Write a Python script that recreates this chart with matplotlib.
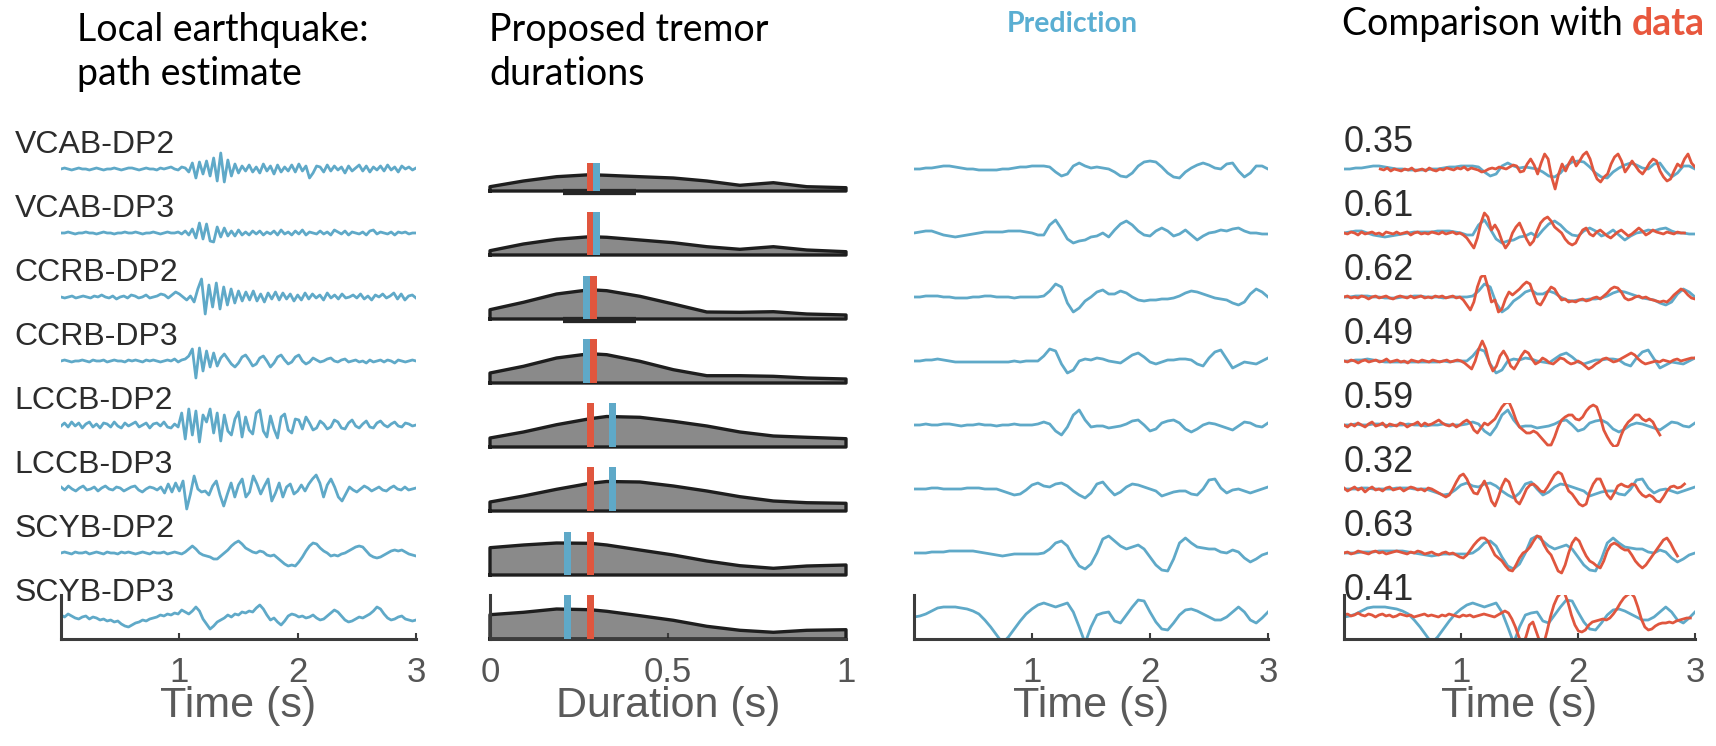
import matplotlib
matplotlib.use("Agg")
import matplotlib.pyplot as plt
import numpy as np

# ---- data (amplitudes, in pixel-like units) ----
stations = ["VCAB-DP2", "VCAB-DP3", "CCRB-DP2", "CCRB-DP3",
            "LCCB-DP2", "LCCB-DP3", "SCYB-DP2", "SCYB-DP3"]
corr = ["0.35", "0.61", "0.62", "0.49", "0.59", "0.32", "0.63", "0.41"]

# local earthquake traces, 0..3 s
eq_traces = [
    [0, 1, 0, -1, 0, 1, 0, 0, -1, 0, 1, 0, -1, 0, 0, 1, 0, -1, 0, 1, 1, 0, -1, 0, 1, 0, 0, -1, 1, 0, 1, 2, 0, -1, 2, 1,
     -3, 6, -9, 7, -5, 8, -7, 11, -12, 16, -13, 9, -7, 5,
     -4, 3, -2, 4, -3, 2, -4, 5, -2, 3, -5, 4, -3, 2, -2, 4, -3,
     5, -2, 3, -9, -4, 3,
     2, -3, 4, -2, 3, -1, 2, -4, 3, -2, 1, 4, -2, 3, -3, 2, -1, 3, -2, 4, -1, 2, -3, 3, 0, 2, -1, 1],
    [0, 0, 1, 0, -1, 0, 0, 1, 0, 0, -1, 0, 1, 0, 0, -1, 0, 0, 1, 0, 0, 1, 0, -1, 0, 0, 1, 0, -1, 0, 1, 0, 0, 1, -1, 2,
     -2, 4, -5, 10, -6, 9, -8, -9, 6, -4, 5,
     -3, 2, -3, 3, -2, 1, -2, 2, -1, 2, -2, 1, -1, 2, -2, 3, -1, 1, -2, 2, -1, 3, -2, 1, 0, -1, 2, -1, 1, -2,
     3, 1, -1, 2, -2, 1, 0, -1, 1, -2, 2, 3, -1, 1, 0, -1, 1, -2, 1, 0, 1, -1, 0, 0],
    [0, -1, 0, 1, -1, 0, 1, 0, -1, 1, 0, 2, 0, -1, 1, -2, 0, 1, -1, 2, 1, -1, 0, 2, -1, 0, 1, 3, 2, -1, 2, 5, 3, 0, -3, 1,
     -5, 8, 18, -17, 12, -10, 14, -12, 10, -8, 8, -6, 6, -4,
     5, -3, 6, -4, 3, -5, 4, -2, 5, -3, 4, -2, 3, -4, 2,
     -3, 4, -2, 3, -1, 2, -3, 4, -1, 2, -2, 3, -1, 0, 2, -1, 3, -2, 1, -3, 2, 0, 3, -1, 1, 4, -2, 3, -3, 1, 2, -1],
    [0, 1, 0, -1, 0, 0, 1, 0, -1, 1, 0, 0, 1, -1, 0, 1, 0, 0, -1, 1, 0, 1, 0, -1, 1, 0, 1, 0, -1, 0, 1, 0, 2, -1, 1, 2,
     5, 12, -17, 13, -10, 10, -6, 8, -5,
     3, 7, 2, -3, -6, -2, 4, 6, 1, -5, -3, 3, 5, 0, -6, -2, 4, 6, 1, -3, -1, 4, 6, 0, -3, -1, 3, 1, -1, 0,
     2, 3, 0, -1, 1, 2, -1, 0, 1, -1, 0, -2, 1, -1, 0, 1, -1, 1, 0, -2, 1, 0, -1, 0, 1, 0],
    [-1, 2, -2, 3, -1, 2, -3, 1, 3, -2, 1, -3, 2, 1, -2, 3, -1, -3, 2, -1, 1, 3, -2, 0, 2, -3, 1, 2, -1, 3, -2, -3, 1, -2,
     12, -14, 16, -10, 14, -17, 10, 3, 16, -8, 12, -16, 10, -6, -10, 6, 13, -12, 8, -5, -9, 12, 15, -6, -12, 9, -4,
     -13, 8, 11, -5, -8, 6, 5,
     -4, 8, 2, -5, -3, 4, 1, -4, -2, 5, 3, -3, -4, 2, 5, -1, -3, 1, 4, -2, -3, 2, 4, 0, -2, 1, 3, -1, -2, 2, 1, -1, 0],
    [2, -1, 3, 0, -2, 1, 3, -1, 0, 2, -2, 1, 3, 0, -1, 2, 1, -2, 0, 2, 3, -1, -3, 0, 2, 1, -1, 2,
     -4, 5, -3, 6, -2, 8,
     -20, -5, 13, 0, -3, -2, -6, 3, 8, -6, -17, -5, 6, -8, 4, 10, -8, -3, 13, 5, -5, 3, 10, -12, -4, 6, -8, 2, 5,
     -5, -2, 4, -2, 5, 10, 14, 6, -8, 4, 10, 2, -8, -12, -5, 2,
     -1, -3, 0, 3, 1, -2, 0, 2, -1, -2, 1, 3, 0, -1, 2, -1, 0, 1],
    [0, 1, 0, -1, 1, 0, 0, 1, -1, 0, 1, 0, -1, 1, 0, 0, -1, 1, 0, 1, 0, -1, 0, 1, 0, -1, 1, 0, 0, 1, -1, 0, 1, 0, -1, 1,
     4, 7, 4, 0, -2, -3, -4, -6, -6, -3, 0, 3, 7, 10, 12, 9, 5, 3, 1, 0, 2, 1, -2, -3, -2, -5, -8, -11, -13, -12,
     -13, -9, -4, 2, 7, 10, 9, 5, 2, 0, -3, -2, -3,
     -1, 0, 2, 4, 6, 7, 6, 2, -2, -4, -5, -4, -2, 0, 2, 3, 2, 3, 1, -1, -2, -3],
    [2, 0, 3, 1, -1, -2, 0, 1, -2, 0, -1, -3, -2, -4, -3, -5, -4, -7, -9, -10, -8, -6, -5, -3, -4, -2, -1, 0, 2, 1,
     3, 2, 4, 3, 7, 5, 3, 6, 10, 6, -2, -7, -12, -9, -5, -3, -1, 2, 0, 3, 2, 5, 4, 6, 5, 9, 12, 8, 2, -3, -1,
     -5, -8, -4, 1, 3, 2, 0, 1, -1, 0, 2, -1, -3, -2, 1, 4, 7, 5, 1, -3, -5, -4, -2, 0, -1, 1, 3, 6, 10, 8,
     3, -1, -3, -2, 0, 1, -2, -3, -4, -3],
]

# predicted waveforms, 0..3 s (also drawn in blue in the comparison panel)
pred_traces = [
    [0, 0, 1, 1, 2, 3, 3, 2, 1, 0, 0, -1, -1, -1, -1, 0, 0, 1, 2, 2, 3, 3, 3, 2, -3, -7, -5, 3, 6, 3, 1, 2, 1, 0,
     -3, -7, -8, -4, 3, 7, 8, 7, 2, -4, -8, -9, -3, 1, 4, 6, 4, 1, 0, 5, 6, -2, -8, -4, 3, 3, 0],
    [0, 1, 2, 2, 0, -2, -3, -4, -3, -2, -1, 0, 1, 1, 1, 1, 2, 2, 2, 1, 0, -2, -2, 8, 13, 4, -6, -10, -8, -7, -4,
     -3, 0, -4, 3, 9, 12, 8, 2, -2, -3, 2, 5, 2, -3, -1, 3, -2, -7, -3, 0, 1, 3, 2, 4, 5, 2, 0, 0, -1, -1],
    [0, 0, 1, 1, 1, 0, 0, -1, -1, -1, 0, 0, 1, 1, 0, 0, 0, -1, 0, 0, 0, 0, 1, 6, 13, 10, -6, -15, -11, -4, 0,
     5, 7, 3, 3, 6, 4, 0, -3, -4, -3, -3, -2, -2, -1, 1, 4, 6, 5, 3, 1, -1, -2, -3, -6, -8, -5, 3, 8, 5, 0],
    [0, 0, 1, 1, 2, 1, 0, -1, -1, -1, -1, -1, -1, -1, -1, -1, -1, 0, -1, 0, 0, 0, 5, 12, 10, -3, -12, -9, 0, 2,
     1, 3, 2, 0, -1, -2, 2, 6, 8, 4, -1, -3, -1, 1, 1, 2, 2, 1, -3, -5, 3, 9, 11, 2, -7, -4, -1, -2, -3, 0, 3],
    [0, 0, 1, 0, 0, 1, 1, 0, -1, 0, 0, 1, 0, 0, -1, 0, 0, 1, 0, 0, 0, 1, 3, 1, -6, -10, -2, 10, 15, 5, -2, -1,
     -1, -3, -2, -1, 1, 4, 5, 0, -6, -4, 2, 4, 5, 2, -4, -7, -4, 0, 2, 1, -1, -3, -5, -1, 3, 2, -1, -2, 2],
    [0, 0, 0, 1, 1, 0, 0, 0, 0, 1, 1, 1, 0, 0, 0, -2, -4, -6, -5, -1, 4, 6, 3, 2, 5, 6, 3, -2, -6, -9, -4, 5, 7,
     0, -6, -3, 2, 5, 4, 2, 0, -2, -7, -5, -3, -2, -2, -5, -6, 0, 9, 10, 1, -4, -1, 0, -2, -4, -2, 0, 2],
    [0, 0, 0, 1, 1, 1, 2, 2, 2, 2, 2, 1, 0, -1, -2, -3, -2, -1, -1, -1, -1, -1, 0, 4, 10, 12, 7, -4, -13, -16,
     -11, 0, 14, 17, 12, 7, 4, 6, 8, 4, -4, -12, -17, -18, -6, 10, 15, 10, 6, 5, 4, 4, 1, 0, 3, 1, -5, -9, -6, -2, 0],
    [0, 1, 3, 6, 9, 10, 10, 10, 9, 8, 6, 3, -3, -10, -18, -26, -20, -12, -4, 3, 8, 12, 14, 12, 10, 12, 14, 5,
     -10, -26, -10, 2, 4, 5, -4, -6, 2, 10, 17, 16, 5, -5, -12, -13, -6, 2, 7, 8, 6, 3, 0, -3, -3, 0, 5, 10, 5,
     -3, -6, -1, 5],
]

# observed data (red) in the comparison panel
data_t0 = [0.31, 0, 0, 0, 0, 0, 0, 0]
data_t1 = [3.0, 2.91, 3.0, 3.0, 2.70, 2.91, 2.85, 2.96]
data_traces = [
    [0, -1, 1, -2, 0, -1, -2, 0, -1, 1, -2, -1, 0, -2, 1, -1, -2, 0, -1, 1, 0, -1, 1, 0, 2, -1, 1, 0,
     -1, -3, -2, 0, 1, 0, 2, 1, 0, 2, 4, 3, -3, -2, 5, 10, 4, -5, 6, 15, 10, -8, -20, -5, 5, -2, 6, 12, 3, 8,
     14, 17, 10, -2, -10, -13, -8, -5, 5, 12, 15, 8, -3, 2, 8, 3, -2, -5, 0, 6, 10, 8, -2, -8, -12, -10, -2,
     5, 2, 10, 15, 6, 2],
    [0, -1, 1, 0, -2, 1, -1, 0, 1, -1, 0, -2, 1, 0, -1, 1, -1, 0, 1, -2, 0, 1, -1, 0, -1, 1, 0, -1, 1, -1, 0, 1,
     -1, 0, -2, -5, -10, -15, -5, 10, 20, 16, 3, 8, 2, -8, -15, -10, 0, 6, 10, 2, -6, -12, -8, 2, 10, 14, 16, 12,
     6, 3, 0, -6, -10, -12, -10, -3, 3, 5, -1, -3, 1, 3, 0, -3, -5, -2, 1, 3, 0, -3, -1, 2, 5, 2, -2, 0, 3, 1,
     0, -1, 1, 0, -1, 1, 0, 0],
    [0, 1, -1, 0, -1, 1, 0, -2, 0, 1, -1, 0, 1, -1, -2, 0, 1, 0, -1, 1, -1, 0, 1, -1, 0, -1, 1, 0, 1, -1, 0, 1,
     -1, 0, -3, -8, -13, -5, 10, 20, 22, 10, -5, -3, -15, -12, -2, 5, 2, 5, 8, 12, 15, 13, 3, -6, -8, -2, 5, 10,
     8, 2, -3, -2, -5, -4, -5, -3, -2, -4, -3, -1, 0, -2, 1, 4, 8, 10, 9, 5, -1, -3, -2, 0, 1, -1, 0, -2, -3,
     -4, -5, -4, -5, -2, 2, 5, 8, 6, 2, -1, -2],
    [0, -1, 1, 0, -2, 0, 1, -1, 0, 1, -1, 0, 2, -1, 0, 1, -1, 0, -2, 1, 0, -1, 1, 0, -1, 1, 0, -1, 0, 1, -1, 0,
     1, 0, -2, -5, -8, 0, 12, 20, 12, -2, -10, -5, 5, 10, 4, -5, -8, -2, 5, 10, 8, 2, -3, -1, 3, 1, -2, -3, 0, 3,
     2, -1, -3, -2, 0, -2, -5, -8, -6, -3, -1, 2, 3, 1, -1, 0, 2, 4, 6, 8, 6, 2, -1, -3, -2, -1, 0, -1, 1, 0, -1,
     1, 2, 0, 1, 2, 3, 3],
    [0, -2, 1, -1, 2, 0, -2, 1, 3, -1, 0, 2, -2, 1, 0, -1, 2, 1, -2, 0, 1, 3, -1, 2, 0, 1, 3, 5, 2, 0, -1, 1, -2,
     0, 3, 5, 2, -5, -8, -3, 2, 0, 3, 6, 12, 18, 22, 23, 15, 5, -2, -5, -8, -8, -6, -8, -12, -16, -20, -20, -12,
     -2, 5, 8, 10, 10, 6, 5, 8, 14, 18, 20, 18, 8, -5, -12, -18, -22, -20, -10, -2, 3, 6, 10, 10, 6, 4, 6, 3,
     -4, -10],
    [1, -2, 0, 2, -1, 1, -3, 0, 2, -1, 0, -2, 1, 2, -1, 0, 1, -2, 0, 2, 1, -1, 0, -2, 1, 0,
     -2, -4, -6, -8, -6, 0, 7, 13, 15, 10, 2, -4, -5, 2, 8, 0, -12, -17, -8, 3, 10, 7, -3, -12, -15, -8, 0, 4,
     5, 2, -2, -3, 2, 8, 14, 17, 15, 6, -2, -5, -10, -15, -17, -15, -3, 5, 10, 10, 2, -6, -10, -4, 3, 5, 3, 2,
     5, 4, -2, -6, -8, -6, -8, -12, -13, -8, -2, 2, 3, 1, 2, 5],
    [0, 1, -1, 0, 2, 1, 0, -1, 1, 2, 0, 1, -1, 0, 1, 2, 1, 0, -1, 1, 0, 2, 1, -1, 0, 1, -1, -2, 0, 1, -1, 0,
     -2, -4, -5, -2, 3, 8, 12, 15, 15, 12, 5, -2, -5, -8, -13, -17, -18, -12, -5, 0, 2, 6, 12, 17, 16, 8, 2, -2,
     -10, -18, -20, -12, 0, 10, 15, 12, 4, -3, -8, -10, -13, -15, -8, 2, 8, 10, 8, 5, 3, 3, -2, -8, -12, -15,
     -12, -7, -2, 3, 8, 13, 15, 10, 3, -3],
    [2, 3, 1, 2, 4, 2, 1, 3, 2, 0, 2, 3, 1, 2, 0, 1, 3, 2, 1, 2, 0, 1, 2, 3, 1, 2, 1, 0, 2, 1, 3, 2, 1, 0, 2, 1,
     2, 0, 1, 2, 3, 2, 1, 0, 2, 4, 6, 4, -2, -10, -20, -28, -20, -8, -5, -15, -25, -28, -15, 0, 12, 20, 24, 24,
     15, 2, -8, -14, -15, -13, -8, -5, -4, -3, -2, -3, -1, 3, 8, 14, 19, 22, 24, 20, 10, -2, -10, -13, -12, -9,
     -7, -6, -6, -5, -6, -4, -3, -2, -1, -1],
]

# proposed tremor durations (density outline heights) and picks
dur_x = [0, 0.094, 0.187, 0.281, 0.328, 0.421, 0.515, 0.609, 0.702, 0.796, 0.890, 1.0]
dur_h = [
    [4.3, 10, 14.3, 16.3, 15.7, 14.3, 13, 10, 5.7, 8.3, 4.3, 3.3],
    [4.3, 11, 15.7, 18.3, 17.7, 15, 12.3, 8.3, 5.7, 8.3, 5, 3.3],
    [9.3, 16.7, 25, 29.3, 28.3, 22.7, 15, 7, 6.7, 7.3, 5, 4],
    [10, 16.7, 25, 29.3, 28.3, 21.7, 13.3, 7.3, 7.3, 6.7, 5, 4],
    [9, 15, 22.3, 28.3, 30.5, 29.7, 25.7, 21, 15, 11, 9.7, 8.3],
    [9, 15, 21.7, 27.7, 29.5, 29, 25, 20, 14.3, 10, 8.3, 7.7],
    [27.3, 30, 32, 31.7, 30, 25, 20, 14, 9.3, 6.7, 9, 10],
    [24.3, 26.7, 30, 29.3, 27.7, 23.3, 18.7, 12.7, 8.7, 6.7, 8.7, 9.3],
]
pick_data = [0.281, 0.281, 0.29, 0.29, 0.283, 0.283, 0.283, 0.283]
pick_pred = [0.30, 0.30, 0.272, 0.272, 0.345, 0.345, 0.217, 0.217]
pick_top = [28, 43, 43, 44, 44, 44, 43, 44]
range_rows = [0, 2]
range_lo, range_hi = 0.205, 0.41

# ---- style / layout ----
BLUE = "#5fa9c8"
RED = "#e0563e"
W, H = 1716, 746
ROW0, STEP, HALF = 169, 64, 22
panels_x = [(61, 416), (490, 846), (914, 1268), (1344, 1695)]
LABEL_FONT = "Liberation Sans"

fig = plt.figure(figsize=(W / 100, H / 100), dpi=100)


def row_axes(p, k):
    x0, x1 = panels_x[p]
    b = ROW0 + STEP * k
    ax = fig.add_axes([x0 / W, (H - b - HALF) / H, (x1 - x0) / W, 2 * HALF / H])
    ax.patch.set_visible(False)
    for s in ax.spines.values():
        s.set_visible(False)
    ax.set_yticks([])
    ax.set_xticks([])
    return ax


def style_bottom(ax, ticks, labels, xlabel):
    for side in ["left", "bottom"]:
        ax.spines[side].set_visible(True)
        ax.spines[side].set_color("#3c3c3c")
        ax.spines[side].set_linewidth(2.2)
    ax.set_xticks(ticks)
    ax.set_xticklabels(labels, fontfamily=LABEL_FONT, fontsize=25, color="#555555")
    ax.tick_params(axis="x", direction="in", length=4, width=1.5, color="#3c3c3c", pad=12)
    ax.set_xlabel(xlabel, fontfamily=LABEL_FONT, fontsize=31, color="#5a5a5a", labelpad=-2)


n = len(stations)
for k in range(n):
    # panel 1: earthquake path estimate
    ax = row_axes(0, k)
    y = eq_traces[k]
    ax.plot(np.linspace(0, 3, len(y)), y, color=BLUE, lw=2.0)
    ax.set_xlim(0, 3)
    ax.set_ylim(-HALF, HALF)
    ax.text(-0.13, 1.05, stations[k], transform=ax.transAxes, ha="left", va="center",
            fontfamily=LABEL_FONT, fontsize=23, color="#2c2c2c")
    if k == n - 1:
        style_bottom(ax, [1, 2, 3], ["1", "2", "3"], "Time (s)")

    # panel 2: duration densities
    ax = row_axes(1, k)
    h = dur_h[k]
    ax.fill_between(dur_x, 0, h, color="#8a8a8a", lw=0, zorder=1)
    ax.plot([0] + dur_x + [1, 0], [0] + h + [0, 0], color="#1e1e1e", lw=2.4,
            solid_joinstyle="round", clip_on=False, zorder=2)
    if k in range_rows:
        ax.plot([range_lo, range_hi], [-1, -1], color="#262626", lw=4.5,
                solid_capstyle="butt", clip_on=False, zorder=3)
    ax.bar([pick_data[k]], [pick_top[k]], width=0.019, color=RED, zorder=4)
    ax.bar([pick_pred[k]], [pick_top[k]], width=0.019, color=BLUE, zorder=4)
    ax.set_xlim(0, 1)
    ax.set_ylim(0, 2 * HALF)
    if k == n - 1:
        style_bottom(ax, [0, 0.5, 1], ["0", "0.5", "1"], "Duration (s)")

    # panel 3: prediction
    ax = row_axes(2, k)
    y = pred_traces[k]
    ax.plot(np.linspace(0, 3, len(y)), y, color=BLUE, lw=2.0)
    ax.set_xlim(0, 3)
    ax.set_ylim(-HALF, HALF)
    if k == n - 1:
        style_bottom(ax, [1, 2, 3], ["1", "2", "3"], "Time (s)")

    # panel 4: comparison with data
    ax = row_axes(3, k)
    ax.plot(np.linspace(0, 3, len(y)), y, color=BLUE, lw=2.0)
    d = data_traces[k]
    ax.plot(np.linspace(data_t0[k], data_t1[k], len(d)), d, color=RED, lw=2.0)
    ax.set_xlim(0, 3)
    ax.set_ylim(-HALF, HALF)
    ax.text(0.0, 1.1, corr[k], transform=ax.transAxes, ha="left", va="center",
            fontfamily=LABEL_FONT, fontsize=26, color="#2c2c2c")
    if k == n - 1:
        style_bottom(ax, [1, 2, 3], ["1", "2", "3"], "Time (s)")

# ---- titles ----
TITLE_FONT = "Lato"
fig.text(77 / W, 1 - 52 / H, "Local earthquake:\npath estimate", ha="left", va="center",
         fontfamily=TITLE_FONT, fontsize=27, linespacing=1.25, color="black")
fig.text(489 / W, 1 - 52 / H, "Proposed tremor\ndurations", ha="left", va="center",
         fontfamily=TITLE_FONT, fontsize=27, linespacing=1.25, color="black")
fig.text(1007 / W, 1 - 24 / H, "Prediction", ha="left", va="center",
         fontfamily=TITLE_FONT, fontsize=20.5, fontweight="bold", color="#5aaed2")
t1 = fig.text(1342 / W, 1 - 24 / H, "Comparison with", ha="left", va="center",
              fontfamily=TITLE_FONT, fontsize=27, color="black")
renderer = fig.canvas.get_renderer()
bb = t1.get_window_extent(renderer)
fig.text((bb.x1 + 9) / W, 1 - 24 / H, "data", ha="left", va="center",
         fontfamily=TITLE_FONT, fontsize=27, fontweight="bold", color="#e8573d")

fig.savefig("out.png", dpi=100, facecolor="white")
